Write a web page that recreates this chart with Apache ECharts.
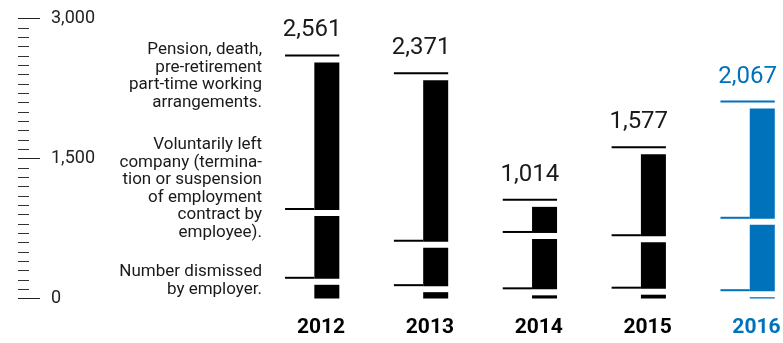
<!DOCTYPE html>
<html>
<head>
<meta charset="utf-8">
<script src="https://cdn.jsdelivr.net/npm/echarts@6/dist/echarts.min.js"></script>
<style>
  html, body { margin: 0; padding: 0; background: #fff; }
  #chart { width: 783px; height: 343px; }
</style>
</head>
<body>
<div id="chart"></div>
<script>
// Staff departures per year, split by reason (stacked bottom to top)
const years = ['2012', '2013', '2014', '2015', '2016'];
const dismissed = [179, 100, 66, 73, 46];        // Number dismissed by employer
const voluntary = [737, 476, 604, 562, 776];     // Voluntarily left company
const pension = [1645, 1795, 344, 942, 1245];    // Pension, death, pre-retirement part-time
const yTicks = [0, 1500, 3000];

const groupLabels = [
  'Pension, death,\npre-retirement\npart-time working\narrangements.',
  'Voluntarily left\ncompany (termina-\ntion or suspension\nof employment\ncontract by\nemployee).',
  'Number dismissed\nby employer.'
];
const groupTops = [41, 136, 263];

const BLUE = '#0071bb';
const INK = '#1a1a1a';
const highlightIndex = years.length - 1;

const fmt = n => n.toLocaleString('en-US');

const chart = echarts.init(document.getElementById('chart'), null, { renderer: 'canvas' });

const gridLeft = 266.6;
const axisX = 18;

function renderItem(params, api) {
  const i = api.value(0);
  const c1 = api.value(1);
  const c2 = c1 + api.value(2);
  const c3 = c2 + api.value(3);
  const base = api.coord([i, 0]);
  const cx = base[0];
  const y0 = base[1];
  const y1 = api.coord([i, c1])[1];
  const y2 = api.coord([i, c2])[1];
  const y3 = api.coord([i, c3])[1];
  const color = i === highlightIndex ? BLUE : '#000';
  const bx = cx - 6.7, bw = 25, lx = cx - 36;
  const half = 3, lw = 2;
  const seg = (top, bottom) => ({
    type: 'rect',
    shape: { x: bx, y: top, width: bw, height: Math.max(0, bottom - top) },
    style: { fill: color }
  });
  const rule = (y, right) => ({
    type: 'rect',
    shape: { x: lx, y: y - half - lw, width: right - lx, height: lw },
    style: { fill: color }
  });
  return {
    type: 'group',
    children: [
      seg(y1 + half, y0),
      seg(y2 + half, y1 - half),
      seg(y3 + half, y2 - half),
      rule(y1, bx),
      rule(y2, bx),
      rule(y3, bx + bw),
      {
        type: 'text',
        style: {
          text: fmt(c3),
          x: (lx + bx + bw) / 2,
          y: y3 - 4 - 25,
          align: 'center',
          verticalAlign: 'middle',
          font: '24px Roboto',
          fill: i === highlightIndex ? BLUE : INK
        }
      }
    ]
  };
}

const seriesData = years.map((y, i) => [i, dismissed[i], voluntary[i], pension[i]]);

chart.setOption({
  animation: false,
  backgroundColor: '#fff',
  grid: {
    left: gridLeft, width: 544.3, top: 18.5, height: 280,
    outerBoundsMode: 'none', containLabel: false
  },
  xAxis: {
    type: 'category',
    data: years.map((y, i) => ({
      value: y,
      textStyle: { color: i === highlightIndex ? BLUE : '#000' }
    })),
    axisLine: { show: false },
    axisTick: { show: false },
    axisLabel: {
      fontFamily: 'Roboto',
      fontWeight: 'bold',
      fontSize: 21,
      margin: 19
    }
  },
  yAxis: {
    type: 'value',
    min: yTicks[0],
    max: yTicks[yTicks.length - 1],
    interval: yTicks[1] - yTicks[0],
    offset: gridLeft - axisX,
    axisLine: { show: false },
    splitLine: { show: false },
    axisTick: { show: true, inside: true, length: 22, lineStyle: { color: '#222', width: 1 } },
    minorTick: { show: true, splitNumber: 15, length: 11, lineStyle: { color: '#333', width: 1 } },
    minorSplitLine: { show: false },
    axisLabel: {
      inside: true,
      margin: 33,
      fontFamily: 'Roboto',
      fontSize: 18,
      color: '#222',
      formatter: v => fmt(v)
    }
  },
  graphic: groupLabels.map((text, k) => ({
    type: 'text',
    x: 262,
    y: groupTops[k],
    style: {
      text: text,
      align: 'right',
      verticalAlign: 'top',
      font: '17px Roboto',
      lineHeight: 17.5,
      fill: INK
    }
  })),
  series: [{
    type: 'custom',
    renderItem: renderItem,
    data: seriesData,
    encode: { x: 0, y: [1, 2, 3] },
    clip: false
  }]
});
</script>
</body>
</html>
